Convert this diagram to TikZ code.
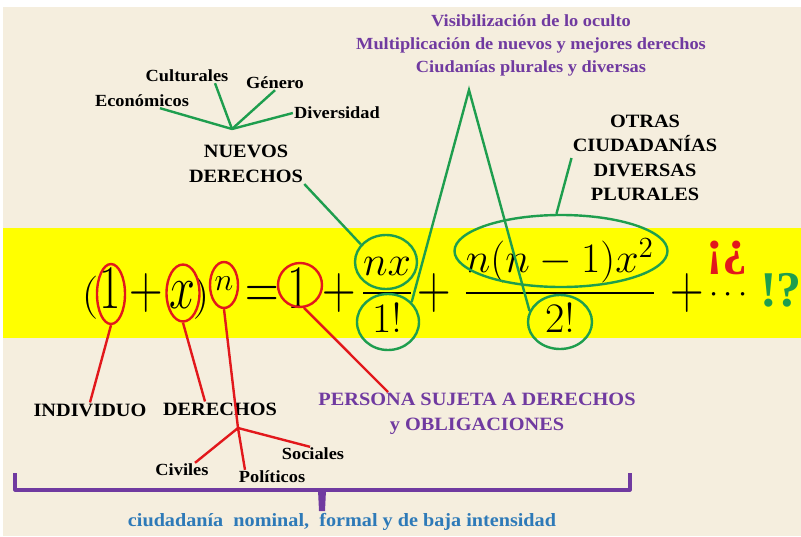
\documentclass[tikz,border=0pt]{standalone}
\usepackage{amsmath}
\usepackage[no-math]{fontspec}
\setmainfont{Liberation Serif}
\usetikzlibrary{shapes.geometric,calc,positioning}
\definecolor{cream}{RGB}{245,238,222}
\definecolor{bandyellow}{RGB}{255,255,0}
\definecolor{ringred}{RGB}{226,24,28}
\definecolor{ringgreen}{RGB}{30,158,78}
\definecolor{lilac}{RGB}{112,58,160}
\definecolor{capblue}{RGB}{46,122,184}

\begin{document}
\begin{tikzpicture}[x=1pt,y=-1pt,
		lbl/.style={font=\bfseries\fontsize{18.8}{25}\selectfont,xscale=1.08,inner sep=1pt,align=center},
		sml/.style={font=\bfseries\fontsize{17}{23}\selectfont,xscale=1.08,inner sep=1pt,align=center},
		big/.style={font=\LARGE,xscale=2.69,yscale=3.59,inner sep=0pt,anchor=base},
		par/.style={font=\LARGE,xscale=2.69,yscale=2.5,inner sep=0pt,anchor=base},
		frc/.style={font=\LARGE,scale=2.43,inner sep=0pt,anchor=base},
		rring/.style={ellipse,draw=ringred,line width=2.4pt,inner sep=0pt},
		gring/.style={ellipse,draw=ringgreen,line width=2.4pt,inner sep=0pt},
		rline/.style={draw=ringred,line width=2.4pt},
		gline/.style={draw=ringgreen,line width=2.4pt}]
	\useasboundingbox (0,0) rectangle (801,536);
	\fill[white] (0,0) rectangle (801,536);
	\fill[cream] (3,7) rectangle (801,536);
	\fill[bandyellow] (3,228) rectangle (801,338);

	\node[par] (lp) at (90,308) {$($};
	\node[big] (o1) at (110,308) {$1$};
	\node[big] (p1) at (146,308) {$+$};
	\node[big] (xv) at (182,308) {$x$};
	\node[par] (rp) at (201,308) {$)$};
	\node[font=\LARGE,scale=1.85,inner sep=0pt,anchor=base] (ex) at (224,290) {$n$};
	\node[big] (eq) at (262,308) {$=$};
	\node[big] (o2) at (298,308) {$1$};
	\node[big] (p2) at (339,308) {$+$};
	\node[frc] (f1) at (387,303.5) {$\genfrac{}{}{1.2pt}{0}{nx}{1!}$};
	\node[big] (p3) at (434,308) {$+$};
	\node[frc] (f2) at (560,303.5) {$\genfrac{}{}{1.2pt}{0}{n(n-1)x^2}{2!}$};
	\node[big] (p4) at (687,308) {$+$};
	\node[font=\LARGE,scale=1.9,inner sep=0pt,anchor=base] (dt) at (731,302) {$\cdots$};
	\node[font=\bfseries\fontsize{50}{52}\selectfont,text=ringred,inner sep=0pt] (inv) at (727,258) {¡¿};
	\node[font=\bfseries\fontsize{50}{52}\selectfont,text=ringgreen,inner sep=0pt] (exc) at (781,290) {!?};

	\node[rring,minimum width=28pt,minimum height=60pt] (r1) at (111,294) {};
	\node[rring,minimum width=33pt,minimum height=57pt] (rx) at (183,293) {};
	\node[rring,minimum width=28pt,minimum height=46pt] (rn) at (224,285) {};
	\node[rring,minimum width=44pt,minimum height=44pt] (r2) at (300,285) {};
	\node[gring,minimum width=62pt,minimum height=54pt] (g1) at (386,262) {};
	\node[gring,minimum width=62pt,minimum height=56pt] (g2) at (388,322) {};
	\node[gring,minimum width=213pt,minimum height=72pt] (g3) at (561,251) {};
	\node[gring,minimum width=64pt,minimum height=54pt] (g4) at (560,322) {};

	\node[sml,text=lilac] (vis) at (531,45) {Visibilización de lo oculto\\Multiplicación de nuevos y mejores derechos\\Ciudanías plurales y diversas};
	\node[lbl,font=\bfseries\fontsize{18.8}{24.5}\selectfont] (otr) at (645,158) {OTRAS\\CIUDADANÍAS\\DIVERSAS\\PLURALES};
	\node[lbl] (nuev) at (246,164) {NUEVOS\\DERECHOS};
	\node[sml] (econ) at (142,101) {Económicos};
	\node[sml] (cult) at (187,76) {Culturales};
	\node[sml] (gen) at (275,83) {Género};
	\node[sml] (div) at (337,113) {Diversidad};
	\node[lbl] (ind) at (90,410) {INDIVIDUO};
	\node[lbl] (derc) at (220,409) {DERECHOS};
	\node[sml] (civ) at (182,470) {Civiles};
	\node[sml] (pol) at (272,477) {Políticos};
	\node[sml] (soc) at (313,454) {Sociales};
	\node[lbl,text=lilac] (pers) at (477,414) {PERSONA SUJETA A DERECHOS\\y OBLIGACIONES};
	\node[sml,font=\bfseries\fontsize{18.7}{23}\selectfont,text=capblue] (cap) at (342,522) {ciudadanía\ \ nominal,\ \ formal y de baja intensidad};

	\coordinate (fanN) at (232,129);
	\coordinate (fanD) at (238,428);
	\coordinate (peak) at (469,90);

	\draw[gline] (fanN) -- ([xshift=18pt]econ.south);
	\draw[gline] (fanN) -- ([xshift=28pt]cult.south);
	\draw[gline] (fanN) -- (gen.south);
	\draw[gline] (fanN) -- (div.west);
	\draw[gline] (nuev.south east) -- (g1.145);
	\draw[gline] (g2.40) -- (peak) -- (g4.160);
	\draw[gline] (otr.west) -- (g3.97);

	\draw[rline] (r1.south) -- (ind.north);
	\draw[rline] (rx.south) -- ([xshift=-15pt]derc.north);
	\draw[rline] (rn.south) -- (fanD) -- ([xshift=-27pt]pol.north);
	\draw[rline] (fanD) -- ([xshift=13pt]civ.north);
	\draw[rline] (fanD) -- ([xshift=-3pt]soc.north);
	\draw[rline] (r2.-80) -- ([xshift=-89pt]pers.north);

	\draw[lilac,line width=3.2pt,line join=round] (15,473) -- (15,490) -- (630,490) -- (630,473);
	\fill[lilac] (318,490) -- (326,490) -- (325,511) -- (319,511) -- cycle;
\end{tikzpicture}
\end{document}
